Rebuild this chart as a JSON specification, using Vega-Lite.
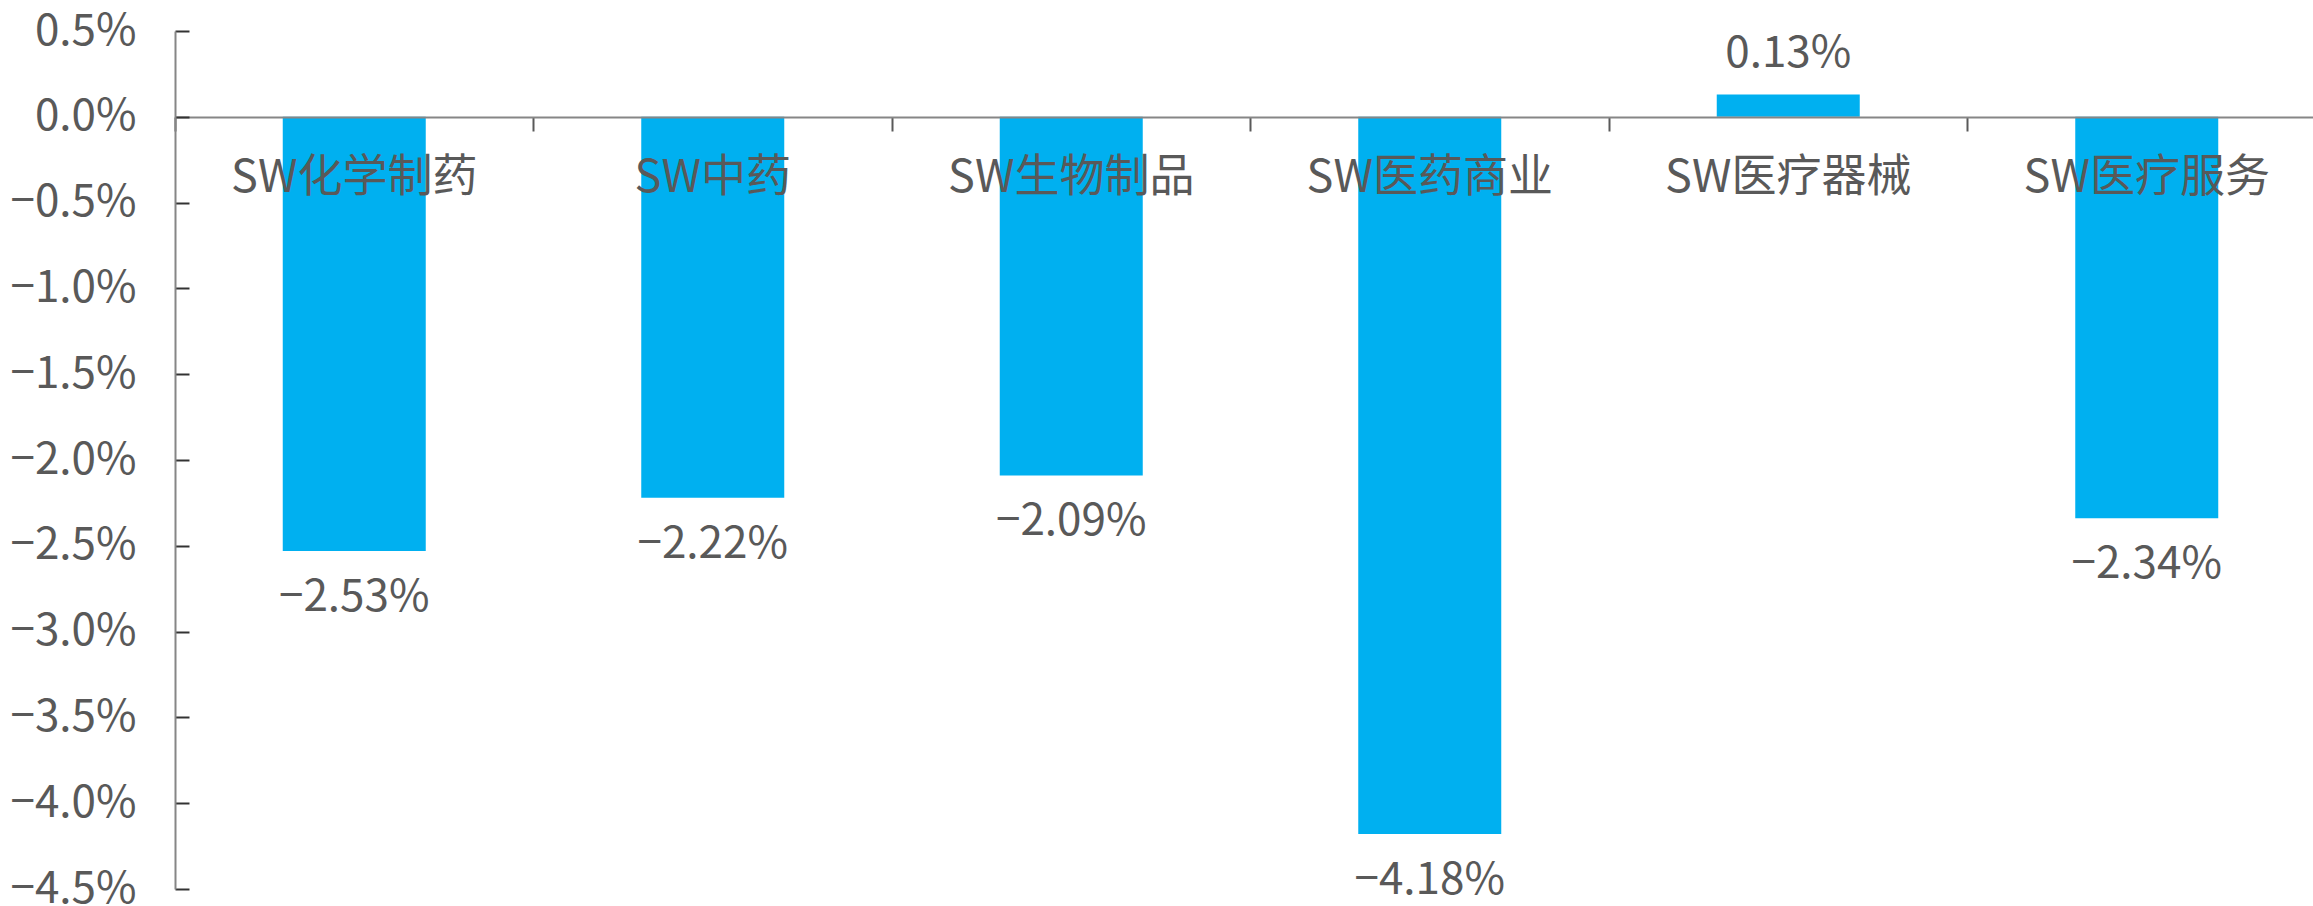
{
  "$schema": "https://vega.github.io/schema/vega-lite/v6.json",
  "width": 2138,
  "height": 858,
  "autosize": {"type": "none"},
  "padding": {"left": 175, "top": 31, "right": 0, "bottom": 17},
  "background": "white",
  "config": {
    "view": {"stroke": null},
    "font": "Noto Sans CJK SC",
    "text": {"font": "Noto Sans CJK SC"}
  },
  "data": {
    "values": [
      {"name": "SW化学制药", "value": -0.0253},
      {"name": "SW中药", "value": -0.0222},
      {"name": "SW生物制品", "value": -0.0209},
      {"name": "SW医药商业", "value": -0.0418},
      {"name": "SW医疗器械", "value": 0.0013},
      {"name": "SW医疗服务", "value": -0.0234}
    ]
  },
  "encoding": {
    "x": {
      "field": "name",
      "type": "nominal",
      "sort": null,
      "scale": {"paddingInner": 0, "paddingOuter": 0, "range": [0, 2151]},
      "axis": {
        "title": null,
        "orient": "bottom",
        "offset": -772,
        "domainColor": "#868686",
        "domainWidth": 2,
        "tickColor": "#595959",
        "tickWidth": 2,
        "tickSize": 14,
        "bandPosition": 0,
        "labelFontSize": 45,
        "labelColor": "#595959",
        "labelPadding": 24,
        "labelLimit": 0,
        "labelAngle": 0,
        "zindex": 1
      }
    },
    "y": {
      "field": "value",
      "type": "quantitative",
      "scale": {"domain": [-0.045, 0.005], "nice": false, "zero": false},
      "axis": {
        "title": null,
        "values": [0.005, 0, -0.005, -0.01, -0.015, -0.02, -0.025, -0.03, -0.035, -0.04, -0.045],
        "format": ".1%",
        "grid": false,
        "domainColor": "#868686",
        "domainWidth": 2,
        "tickColor": "#333333",
        "tickWidth": 2,
        "tickSize": -14,
        "labelFontSize": 44,
        "labelColor": "#595959",
        "labelPadding": 53,
        "zindex": 1
      }
    }
  },
  "layer": [
    {
      "mark": {"type": "bar", "size": 143, "color": "#00B0F0"}
    },
    {
      "transform": [{"filter": "datum.value < 0"}],
      "mark": {"type": "text", "baseline": "top", "dy": 25, "fontSize": 44, "color": "#595959"},
      "encoding": {"text": {"field": "value", "type": "quantitative", "format": ".2%"}}
    },
    {
      "transform": [{"filter": "datum.value >= 0"}],
      "mark": {"type": "text", "baseline": "bottom", "dy": -18, "fontSize": 44, "color": "#595959"},
      "encoding": {"text": {"field": "value", "type": "quantitative", "format": ".2%"}}
    }
  ]
}
